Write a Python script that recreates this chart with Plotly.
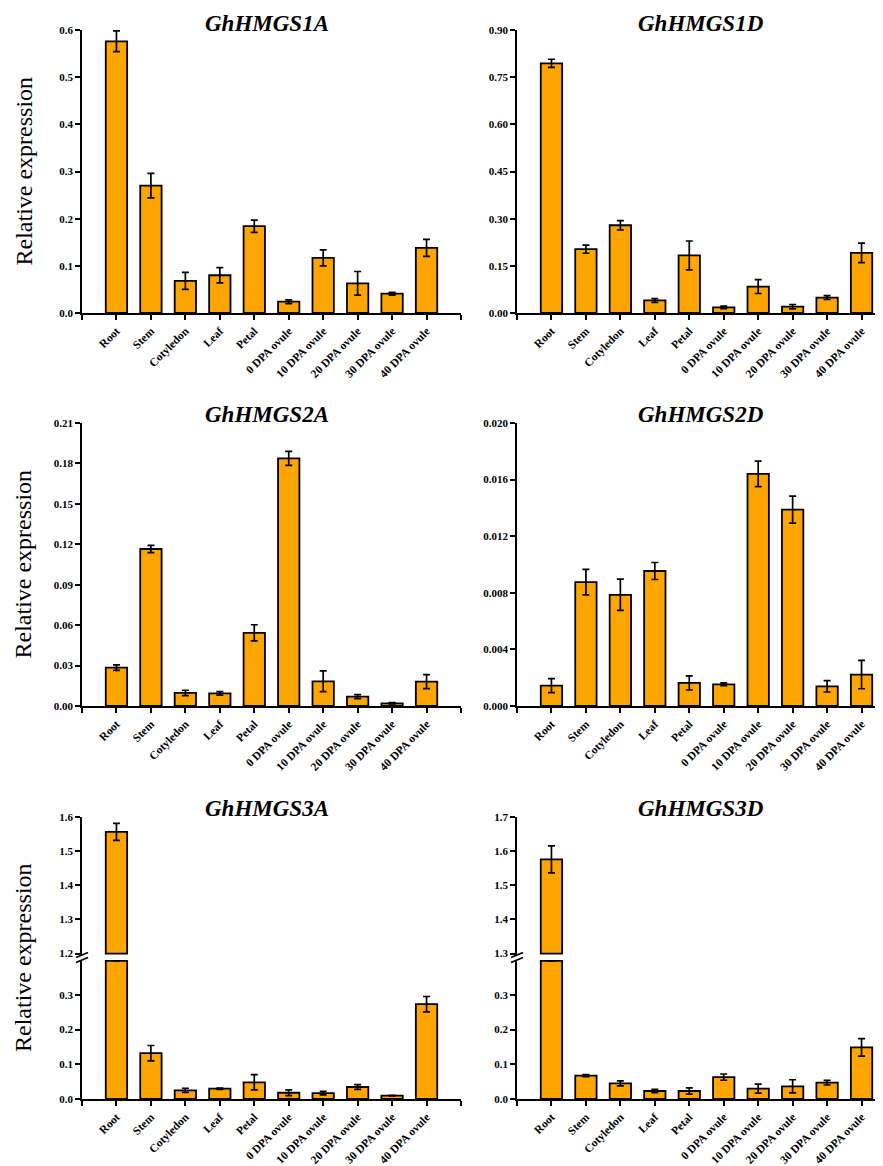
import plotly.graph_objects as go

W, H = 883, 1166
OFF = 8  # default page body margin around the plot div

categories = ["Root", "Stem", "Cotyledon", "Leaf", "Petal", "0 DPA ovule",
              "10 DPA ovule", "20 DPA ovule", "30 DPA ovule", "40 DPA ovule"]

titles = ["GhHMGS1A", "GhHMGS1D", "GhHMGS2A", "GhHMGS2D", "GhHMGS3A", "GhHMGS3D"]

s1a_mean = [0.576, 0.270, 0.068, 0.080, 0.184, 0.024, 0.117, 0.063, 0.041, 0.138]
s1a_err = [0.022, 0.026, 0.018, 0.016, 0.013, 0.004, 0.017, 0.025, 0.003, 0.018]

s1d_mean = [0.794, 0.203, 0.279, 0.040, 0.183, 0.018, 0.084, 0.020, 0.049, 0.191]
s1d_err = [0.013, 0.013, 0.015, 0.006, 0.046, 0.004, 0.022, 0.007, 0.006, 0.031]

s2a_mean = [0.0285, 0.1165, 0.0097, 0.0094, 0.0543, 0.1837, 0.0183, 0.0069, 0.0020, 0.0181]
s2a_err = [0.0020, 0.0027, 0.0020, 0.0013, 0.0060, 0.0052, 0.0077, 0.0015, 0.0005, 0.0052]

s2d_mean = [0.00144, 0.00876, 0.00786, 0.00954, 0.00163, 0.00153, 0.01641, 0.01388, 0.00139, 0.00222]
s2d_err = [0.0005, 0.0009, 0.0011, 0.0006, 0.0005, 0.0001, 0.0009, 0.00095, 0.0004, 0.0010]

s3a_mean = [1.5565, 0.132, 0.025, 0.0297, 0.048, 0.018, 0.017, 0.0345, 0.0096, 0.273]
s3a_err = [0.025, 0.022, 0.006, 0.002, 0.022, 0.008, 0.005, 0.0067, 0.001, 0.022]

s3d_mean = [1.5757, 0.067, 0.045, 0.023, 0.023, 0.063, 0.0297, 0.0364, 0.047, 0.1486]
s3d_err = [0.0395, 0.003, 0.007, 0.005, 0.009, 0.009, 0.013, 0.019, 0.0067, 0.025]

# y-axis settings per panel: (range max, dtick, format)
y_cfg = [(0.6, 0.1, ".1f"), (0.9, 0.15, ".2f"), (0.21, 0.03, ".2f"), (0.020, 0.004, ".3f")]
broken_lower_max = 0.40
broken_lower_ticks = [0.0, 0.1, 0.2, 0.3]
broken_upper = [(1.2, 1.6), (1.3, 1.7)]

ORANGE = "#FFA500"
FONT = "Times New Roman, Liberation Serif, serif"
LW = 1.8

FW, FH = W - OFF, H - OFF

def px_x(p):
    return (p - OFF) / FW

def px_y(p):
    return 1 - (p - OFF) / FH

# pixel layout (page pixels)
left_x = (82, 461)
right_x = (517, 883)
unit = (left_x[1] - left_x[0]) / 11.0
right_range_max = -1 + (right_x[1] - right_x[0]) / unit
rows_px = [(30, 313), (423, 706)]
row3_lower = (960, 1099)
row3_upper = (817, 955)

fig = go.Figure()

tick_font = dict(family=FONT, size=11, color="black", weight="bold")
xtick_font = dict(family=FONT, size=11.5, color="black", weight="bold")

def bar_trace(y, err, xa, ya):
    return go.Bar(
        x=list(range(len(categories))), y=y,
        xaxis=xa, yaxis=ya, width=0.62,
        marker=dict(color=ORANGE, line=dict(color="black", width=LW)),
        error_y=dict(type="data", array=err, color="black", thickness=1.7, width=3.5),
        showlegend=False, hoverinfo="skip",
    )

def x_axis_layout(col, anchor, visible=True):
    dom = left_x if col == 0 else right_x
    rmax = 10 if col == 0 else right_range_max
    tv = list(range(-1, 11 if col == 0 else 10))
    tt = [categories[i] if 0 <= i < 10 else "" for i in tv]
    return dict(
        domain=[px_x(dom[0]), min(1.0, px_x(dom[1]))], range=[-1, rmax],
        anchor=anchor, showline=visible, linecolor="black", linewidth=LW,
        ticks="outside" if visible else "", ticklen=5, tickwidth=LW, tickcolor="black",
        tickvals=tv, ticktext=tt, tickangle=-45, tickfont=xtick_font,
        showticklabels=visible, showgrid=False, zeroline=False, fixedrange=True,
        automargin=False,
    )

def y_axis_layout(anchor, dom_px, rng, tickvals, fmt):
    return dict(
        domain=[px_y(dom_px[1]), px_y(dom_px[0])], range=list(rng),
        anchor=anchor, showline=True, linecolor="black", linewidth=LW,
        ticks="outside", ticklen=5, tickwidth=LW, tickcolor="black",
        tickvals=tickvals, tickformat=fmt, tickfont=tick_font,
        showgrid=False, zeroline=False, fixedrange=True, automargin=False,
    )

layout = {}
means = [s1a_mean, s1d_mean, s2a_mean, s2d_mean]
errs = [s1a_err, s1d_err, s2a_err, s2d_err]
for i in range(4):
    row, col = divmod(i, 2)
    n = i + 1
    xa = "x" if n == 1 else f"x{n}"
    ya = "y" if n == 1 else f"y{n}"
    fig.add_trace(bar_trace(means[i], errs[i], xa, ya))
    layout["xaxis" if n == 1 else f"xaxis{n}"] = x_axis_layout(col, ya)
    ymax, dt, fmt = y_cfg[i]
    tv = [round(dt * k, 6) for k in range(int(round(ymax / dt)) + 1)]
    layout["yaxis" if n == 1 else f"yaxis{n}"] = y_axis_layout(xa, rows_px[row], (0, ymax), tv, fmt)

# broken-axis panels (row 3)
bmeans = [s3a_mean, s3d_mean]
berrs = [s3a_err, s3d_err]
cap = broken_lower_max * 0.993
for j in range(2):
    col = j
    nl = 5 + j   # lower
    nu = 7 + j   # upper
    lo, hi = broken_upper[j]
    m, e = bmeans[j], berrs[j]
    lower_y = [min(v, cap) for v in m]
    lower_err = [err if v <= cap else 0 for v, err in zip(m, e)]
    fig.add_trace(bar_trace(lower_y, lower_err, f"x{nl}", f"y{nl}"))
    upper_y = [v - lo if v > lo else None for v in m]
    fig.add_trace(go.Bar(
        x=list(range(10)), y=upper_y, base=lo, xaxis=f"x{nu}", yaxis=f"y{nu}", width=0.62,
        marker=dict(color=ORANGE, line=dict(color="black", width=LW)),
        showlegend=False, hoverinfo="skip"))
    fig.add_trace(go.Scatter(
        x=[k for k, v in enumerate(m) if v > lo], y=[v for v in m if v > lo],
        error_y=dict(type="data", array=[err for v, err in zip(m, e) if v > lo],
                     color="black", thickness=1.7, width=3.5),
        mode="markers", marker=dict(size=1, color="rgba(0,0,0,0)"),
        xaxis=f"x{nu}", yaxis=f"y{nu}", showlegend=False, hoverinfo="skip"))
    layout[f"xaxis{nl}"] = x_axis_layout(col, f"y{nl}")
    layout[f"yaxis{nl}"] = y_axis_layout(f"x{nl}", row3_lower, (0, broken_lower_max),
                                         broken_lower_ticks, ".1f")
    layout[f"xaxis{nu}"] = x_axis_layout(col, f"y{nu}", visible=False)
    layout[f"yaxis{nu}"] = y_axis_layout(f"x{nu}", row3_upper, (lo - 0.004, hi),
                                         [round(lo + 0.1 * k, 1) for k in range(5)], ".1f")

fig.update_layout(**layout)

# break marks
shapes = []
for col in range(2):
    ax = (left_x if col == 0 else right_x)[0]
    for cy in (955.0, 960.0):
        shapes.append(dict(type="line", xref="paper", yref="paper",
                           x0=px_x(ax - 6), y0=px_y(cy + 2.5), x1=px_x(ax + 6), y1=px_y(cy - 2.5),
                           line=dict(color="black", width=LW)))

annotations = []
title_y = [23.5, 414, 808]
title_x = [267, 701]
for i, t in enumerate(titles):
    row, col = divmod(i, 2)
    annotations.append(dict(
        text=f"<b><i>{t}</i></b>", xref="paper", yref="paper",
        x=px_x(title_x[col]), y=px_y(title_y[row]), xanchor="center", yanchor="middle",
        showarrow=False, font=dict(family=FONT, size=23, color="black")))

ytitle_centers = [(30 + 313) / 2, (423 + 706) / 2, (817 + 1099) / 2]
for cy in ytitle_centers:
    annotations.append(dict(
        text="Relative expression", xref="paper", yref="paper",
        x=px_x(23), y=px_y(cy), xanchor="center", yanchor="middle", textangle=-90,
        showarrow=False, font=dict(family=FONT, size=24, color="black")))

fig.update_layout(
    width=FW, height=FH, margin=dict(l=0, r=0, t=0, b=0, autoexpand=False),
    paper_bgcolor="white", plot_bgcolor="rgba(0,0,0,0)",
    shapes=shapes, annotations=annotations, showlegend=False,
)

fig.write_html("out.html")
